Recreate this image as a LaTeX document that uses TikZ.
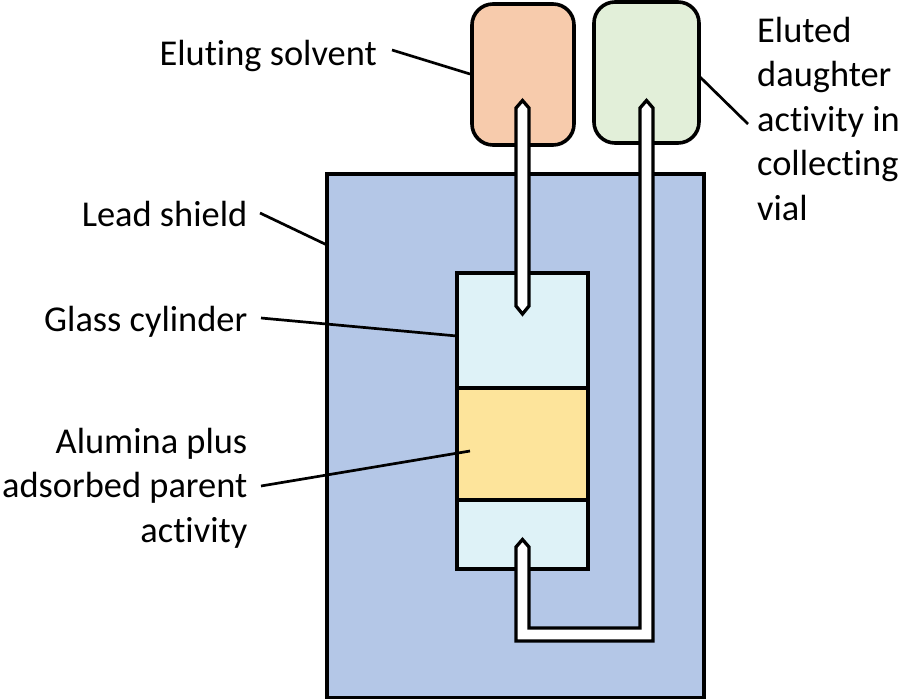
\documentclass[tikz,border=0pt]{standalone}
\usepackage{fontspec}
\setmainfont[Ligatures=CommonOff]{Carlito}
\definecolor{shield}{HTML}{B4C7E7}
\definecolor{glass}{HTML}{DEF2F7}
\definecolor{alumina}{HTML}{FDE49B}
\definecolor{solvent}{HTML}{F7CBAC}
\definecolor{vial}{HTML}{E2EFD9}
\tikzset{
  outline/.style={draw=black,line width=3.6pt,line join=miter,outer sep=0pt,inner sep=0pt,anchor=north west},
  tube/.style={draw=black,line width=3.3pt,line join=miter,fill=white},
  lead/.style={draw=black,line width=2.7pt},
  lbl/.style={inner sep=0pt,font=\fontsize{36.4}{44.5}\selectfont}
}
\begin{document}
\begin{tikzpicture}[x=1pt,y=-1pt]
\useasboundingbox (0,0) rectangle (900,699);
% shapes
\node[outline,fill=shield,minimum width=377pt,minimum height=524pt] (shieldbox) at (327,174) {};
\node[outline,fill=glass,minimum width=131pt,minimum height=296pt] (cyl) at (457,273) {};
\node[outline,fill=alumina,minimum width=131pt,minimum height=112pt] (alum) at (457,388) {};
\node[outline,fill=solvent,rounded corners=21pt,minimum width=102pt,minimum height=141pt] (solv) at (472,4) {};
\node[outline,fill=vial,rounded corners=21pt,minimum width=105pt,minimum height=141pt] (coll) at (594,2) {};
% tubes
\draw[tube] (516,108) -- (522.5,100.5) -- (529,108) -- (529,306) -- (522.5,314) -- (516,306) -- cycle;
\draw[tube] (640,108) -- (646.5,100.5) -- (653,108) -- (653,641) -- (516,641) -- (516,547) -- (522.5,539.5) -- (529,547) -- (529,628) -- (640,628) -- cycle;
% labels
\node[lbl,anchor=base east] (t1) at (377,65) {Eluting solvent};
\node[lbl,anchor=base west,align=left] (t2) at (757,220) {Eluted\\daughter\\activity in\\collecting\\vial};
\node[lbl,anchor=base east] (t3) at (247.5,226) {Lead shield};
\node[lbl,anchor=base east] (t4) at (247.5,331) {Glass cylinder};
\node[lbl,anchor=base east,align=right] (t5) at (247.5,542) {Alumina plus\\adsorbed parent\\activity};
% leader anchors
\coordinate (a1) at (392,50);
\coordinate (b1) at (470,74);
\coordinate (a2) at (748,124);
\coordinate (b2) at (699,76);
\coordinate (a3) at (260,213);
\coordinate (b3) at (327,245);
\coordinate (a4) at (261,318);
\coordinate (b4) at (457,336);
\coordinate (a5) at (261,486);
\coordinate (b5) at (470,451);
\draw[lead] (a1) -- (b1);
\draw[lead] (a2) -- (b2);
\draw[lead] (a3) -- (b3);
\draw[lead] (a4) -- (b4);
\draw[lead] (a5) -- (b5);
\end{tikzpicture}
\end{document}
